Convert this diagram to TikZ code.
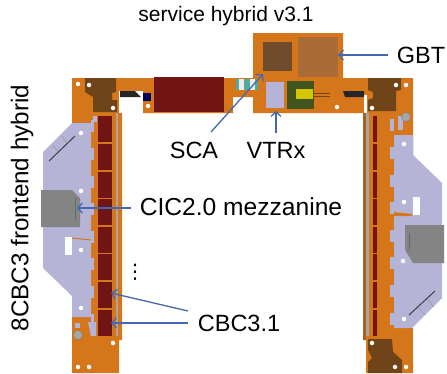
\documentclass[tikz,border=0pt]{standalone}
\usepackage{fontspec}
\setmainfont{Liberation Sans}
\newfontfamily\symbolfont{DejaVu Sans}
\usepackage{xcolor}
\usepackage{tikz}
\usetikzlibrary{arrows.meta}
\definecolor{flexorange}{RGB}{214,118,26}
\definecolor{flexdark}{RGB}{170,96,30}
\definecolor{stiffbrown}{RGB}{110,68,24}
\definecolor{chipred}{RGB}{112,20,20}
\definecolor{platelilac}{RGB}{182,180,214}
\definecolor{cicgrey}{RGB}{132,132,132}
\definecolor{arrowblue}{RGB}{68,104,176}
\definecolor{gbtbrown}{RGB}{170,108,54}
\definecolor{scabrown}{RGB}{112,76,44}
\definecolor{greenpcb}{RGB}{66,84,30}
\definecolor{ledteal}{RGB}{80,170,160}
\tikzset{
	lbl/.style={inner sep=0pt,font=\fontsize{23.5}{26}\selectfont,text=black},
	pointer/.style={draw=arrowblue,line width=1.3pt,-{Straight Barb[length=4.5pt,width=10pt]}},
	hole/.style={shape=circle,draw=none,fill=white,inner sep=0pt,minimum size=4.5pt},
	screw/.style={shape=circle,draw=black!50,fill=black!35,inner sep=0pt,minimum size=9pt},
}
\begin{document}
\begin{tikzpicture}[x=1pt,y=-1pt]
	\useasboundingbox (0,0) rectangle (447,373);
	\fill[white] (0,0) rectangle (447,373);
	% left leg, top flex and service hybrid outline
	\fill[flexorange] (72,78) -- (253,78) -- (253,33) -- (343,33) -- (343,78) -- (413,78) -- (413,157) -- (394,157) -- (394,328) -- (413,328) -- (413,373) -- (366,373) -- (366,340) -- (363,340) -- (363,113) -- (253,113) -- (253,97) -- (233,97) -- (233,113) -- (143,113) -- (143,91) -- (122,91) -- (122,340) -- (119,340) -- (119,373) -- (72,373) -- cycle;
	% cut beside the left and the right stiffener
	\fill[white] (119,91) rectangle (143,113);
	\fill[white] (363.5,95) rectangle (366.5,113);
	\fill[black!85] (120,91) -- (135,91) -- (141,97) -- (120,97) -- cycle;
	\fill[black!85] (343,91) -- (364,91) -- (364,97) -- (345,97) -- cycle;
	% leg edges
	\fill[flexdark] (363,113) rectangle (366,340);
	\fill[black!35] (366,113) rectangle (369,336);
	\fill[black!35] (116,113) rectangle (118,336);
	% brown stiffeners
	\fill[stiffbrown] (85,78) -- (116,78) -- (116,92) -- (112,93) -- (112,100) -- (117,100) -- (117,112) -- (93,112) -- (93,97) -- (85,92) -- cycle;
	\fill[stiffbrown] (368,78) -- (401,78) -- (401,90) -- (396,91) -- (396,111) -- (368,111) -- (368,100) -- (373,98) -- (373,92) -- (368,90) -- cycle;
	\fill[stiffbrown] (368,339) -- (392,339) -- (393,352) -- (402,360) -- (402,373) -- (368,373) -- (368,362) -- (372,358) -- (368,350) -- cycle;
	% chips on top flex and service hybrid
	\fill[chipred] (154,77) rectangle (224,112);
	\fill[gbtbrown] (298,37) rectangle (338,77);
	\fill[scabrown] (263,42) rectangle (292,71);
	\fill[greenpcb] (287,81) rectangle (314,109);
	\fill[yellow!60!olive] (296,89) rectangle (313,99);
	\draw[flexdark!70!black,line width=1pt] (313,93) -- (330,93);
	\draw[flexdark!70!black,line width=1pt] (313,96) -- (330,96);
	\fill[platelilac] (266,82) rectangle (284,108);
	\foreach \x in {236,247} {
		\fill[ledteal] (\x,79) rectangle (\x+11,90);
		\fill[white!85!gray] (\x+3,79) rectangle (\x+8,90);
	}
	\fill[blue!35!black] (143,93) rectangle (151,101);
	% left plate
	\fill[platelilac] (72,123) -- (91,123) -- (91,317) -- (72,317) -- (72,296) -- (43,268) -- (43,152) -- cycle;
	\fill[white] (65,237) rectangle (72,255);
	\draw[flexorange,line width=1pt] (72,238) -- (91,240);
	\fill[cicgrey] (41,190) -- (72,190) -- (80,198) -- (80,227) -- (41,227) -- cycle;
	\draw[black!60,line width=.6pt] (75,198) -- (75,219);
	\draw[black!75,line width=1pt] (49,161) -- (75,136);
	\draw[black!40,line width=.6pt] (58,152) -- (53,145);
	\draw[black!40,line width=.6pt] (67,143) -- (62,136);
	% right plate
	\fill[platelilac] (394,135) -- (413,135) -- (413,155) -- (442,183) -- (442,298) -- (412,328) -- (394,328) -- cycle;
	\fill[flexorange] (393,212) -- (412,214) -- (412,216) -- (393,216) -- cycle;
	\fill[white] (413,197) rectangle (420,215);
	\fill[cicgrey] (405,225) -- (444,225) -- (444,263) -- (413,263) -- (405,250) -- cycle;
	\draw[black!60,line width=.6pt] (409,233) -- (409,250);
	\draw[black!75,line width=1pt] (409,315) -- (435,291);
	\draw[black!40,line width=.6pt] (418,307) -- (425,315);
	\draw[black!40,line width=.6pt] (427,299) -- (434,307);
	% CBC chips and plate tabs
	\foreach \y in {116,144,172,199,227,254,282,310} {
		\fill[chipred] (98,\y) rectangle (112,\y+26);
		\fill[chipred] (373,\y) rectangle (377,\y+26);
		\fill[platelilac] (91,\y+4) rectangle (94,\y+16);
		\fill[platelilac] (390,\y+3) rectangle (394,\y+15);
	}
	\fill[platelilac] (75,323) rectangle (80,328);
	\fill[platelilac] (88,322) -- (96,322) -- (96,336) -- (91,336) -- cycle;
	\fill[platelilac] (93,116) rectangle (97,122);
	\fill[platelilac] (398,116) rectangle (403,130);
	% holes and screws
	\foreach \x/\y [count=\i] in {78/84,89/85,113/108,148/106,81/133,81/191,81/250,81/308,113/343,78/367,89/367,337/107,372/108,396/85,406/85,404/144,404/202,403/261,404/319,372/343,395/367,406/367} {
		\node[hole] (hole\i) at (\x,\y) {};
	}
	\node[screw] (screwleft) at (78,335) {};
	\node[screw] (screwright) at (406,117) {};
	% labels
	\node[lbl,font=\fontsize{21}{24}\selectfont] (hybrid) at (226,16) {service hybrid v3.1};
	\node[lbl] (gbt) at (421,55) {GBT};
	\node[lbl] (sca) at (194,150) {SCA};
	\node[lbl] (vtrx) at (276,150) {VTRx};
	\node[lbl,font=\fontsize{24.6}{27}\selectfont] (cic) at (241,207) {CIC2.0 mezzanine};
	\node[lbl] (cbc) at (239,323) {CBC3.1};
	\node[lbl,rotate=90,font=\fontsize{24.2}{27}\selectfont] (frontend) at (22,208) {8CBC3 frontend hybrid};
	\node[lbl,font=\symbolfont\fontsize{20}{22}\selectfont] (dots) at (135,272) {⋮};
	\coordinate (gbtchip) at (338,55);
	\coordinate (gbtstart) at (388,55);
	\coordinate (scachip) at (263,74);
	\coordinate (scastart) at (211,132);
	\coordinate (vtrxchip) at (276,111);
	\coordinate (vtrxstart) at (276,133);
	\coordinate (cicchip) at (77,208);
	\coordinate (cicstart) at (131,208);
	\coordinate (cbcone) at (111,293);
	\coordinate (cbconestart) at (188,311);
	\coordinate (cbctwo) at (111,323);
	\coordinate (cbctwostart) at (188,323);
	% pointers
	\draw[pointer] (gbtstart) -- (gbtchip);
	\draw[pointer] (scastart) -- (scachip);
	\draw[pointer] (vtrxstart) -- (vtrxchip);
	\draw[pointer] (cicstart) -- (cicchip);
	\draw[pointer] (cbconestart) -- (cbcone);
	\draw[pointer] (cbctwostart) -- (cbctwo);
\end{tikzpicture}
\end{document}
